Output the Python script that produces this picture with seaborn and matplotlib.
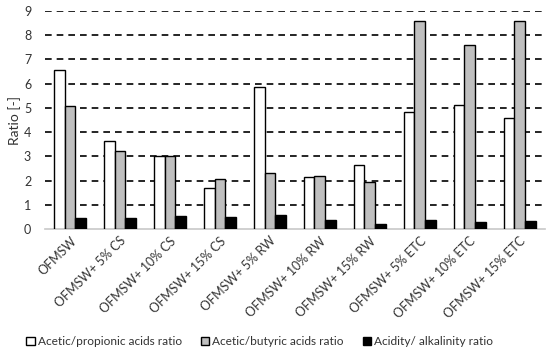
import matplotlib
matplotlib.use("Agg")
import matplotlib.pyplot as plt
import seaborn as sns
import pandas as pd

categories = ["OFMSW", "OFMSW+ 5% CS", "OFMSW+ 10% CS", "OFMSW+ 15% CS",
              "OFMSW+ 5% RW", "OFMSW+ 10% RW", "OFMSW+ 15% RW",
              "OFMSW+ 5% ETC", "OFMSW+ 10% ETC", "OFMSW+ 15% ETC"]
acetic_propionic = [6.55, 3.63, 3.0, 1.70, 5.88, 2.16, 2.66, 4.82, 5.12, 4.60]
acetic_butyric = [5.08, 3.21, 3.0, 2.08, 2.33, 2.19, 1.96, 8.58, 7.59, 8.58]
acidity_alkalinity = [0.44, 0.47, 0.54, 0.51, 0.58, 0.36, 0.22, 0.37, 0.28, 0.33]
series_names = ["Acetic/propionic acids ratio", "Acetic/butyric acids ratio",
                "Acidity/ alkalinity ratio"]
y_ticks = list(range(0, 10))

rows = []
for name, vals in zip(series_names, [acetic_propionic, acetic_butyric, acidity_alkalinity]):
    for c, v in zip(categories, vals):
        rows.append({"cat": c, "series": name, "value": v})
df = pd.DataFrame(rows)

sns.set_style("white")
plt.rcParams["font.family"] = ["Lato", "DejaVu Sans"]

fig = plt.figure(figsize=(5.5, 3.52), dpi=100)
ax = fig.add_axes([0.082, 0.349, 0.908, 0.62])

palette = ["#ffffff", "#bfbfbf", "#000000"]
sns.barplot(data=df, x="cat", y="value", hue="series", palette=palette,
            edgecolor="black", linewidth=1.0, width=0.64, ax=ax, zorder=3,
            saturation=1, legend=True)

ax.set_ylim(0, 9)
ax.set_yticks(y_ticks)
ax.set_xlim(-0.5, len(categories) - 0.5)
for t in y_ticks[1:]:
    ax.axhline(t, color="black", linestyle=(0, (4, 3)), linewidth=1.2, zorder=1)
for s in ["top", "right", "left"]:
    ax.spines[s].set_visible(False)
ax.spines["bottom"].set_color("#c8c8c8")
ax.spines["bottom"].set_linewidth(1.2)
ax.tick_params(axis="both", length=0, labelsize=9, colors="#333333")
ax.tick_params(axis="y", pad=10)
ax.tick_params(axis="x", pad=4)
ax.set_xticks(range(len(categories)))
ax.set_xticklabels(categories, rotation=45, ha="right", rotation_mode="anchor", fontsize=9)
ax.set_xlabel("")
ax.set_ylabel("Ratio [-]", fontsize=10, color="#333333")
ax.yaxis.set_label_coords(-0.048, 0.5)

handles, labels = ax.get_legend_handles_labels()
ax.legend(handles, labels, loc="center", bbox_to_anchor=(0.43, -0.515),
          ncol=3, frameon=False, fontsize=8.6, handlelength=0.7, handleheight=0.7,
          handletextpad=0.25, columnspacing=1.6, labelcolor="#333333")

fig.savefig("out.png", dpi=100)
